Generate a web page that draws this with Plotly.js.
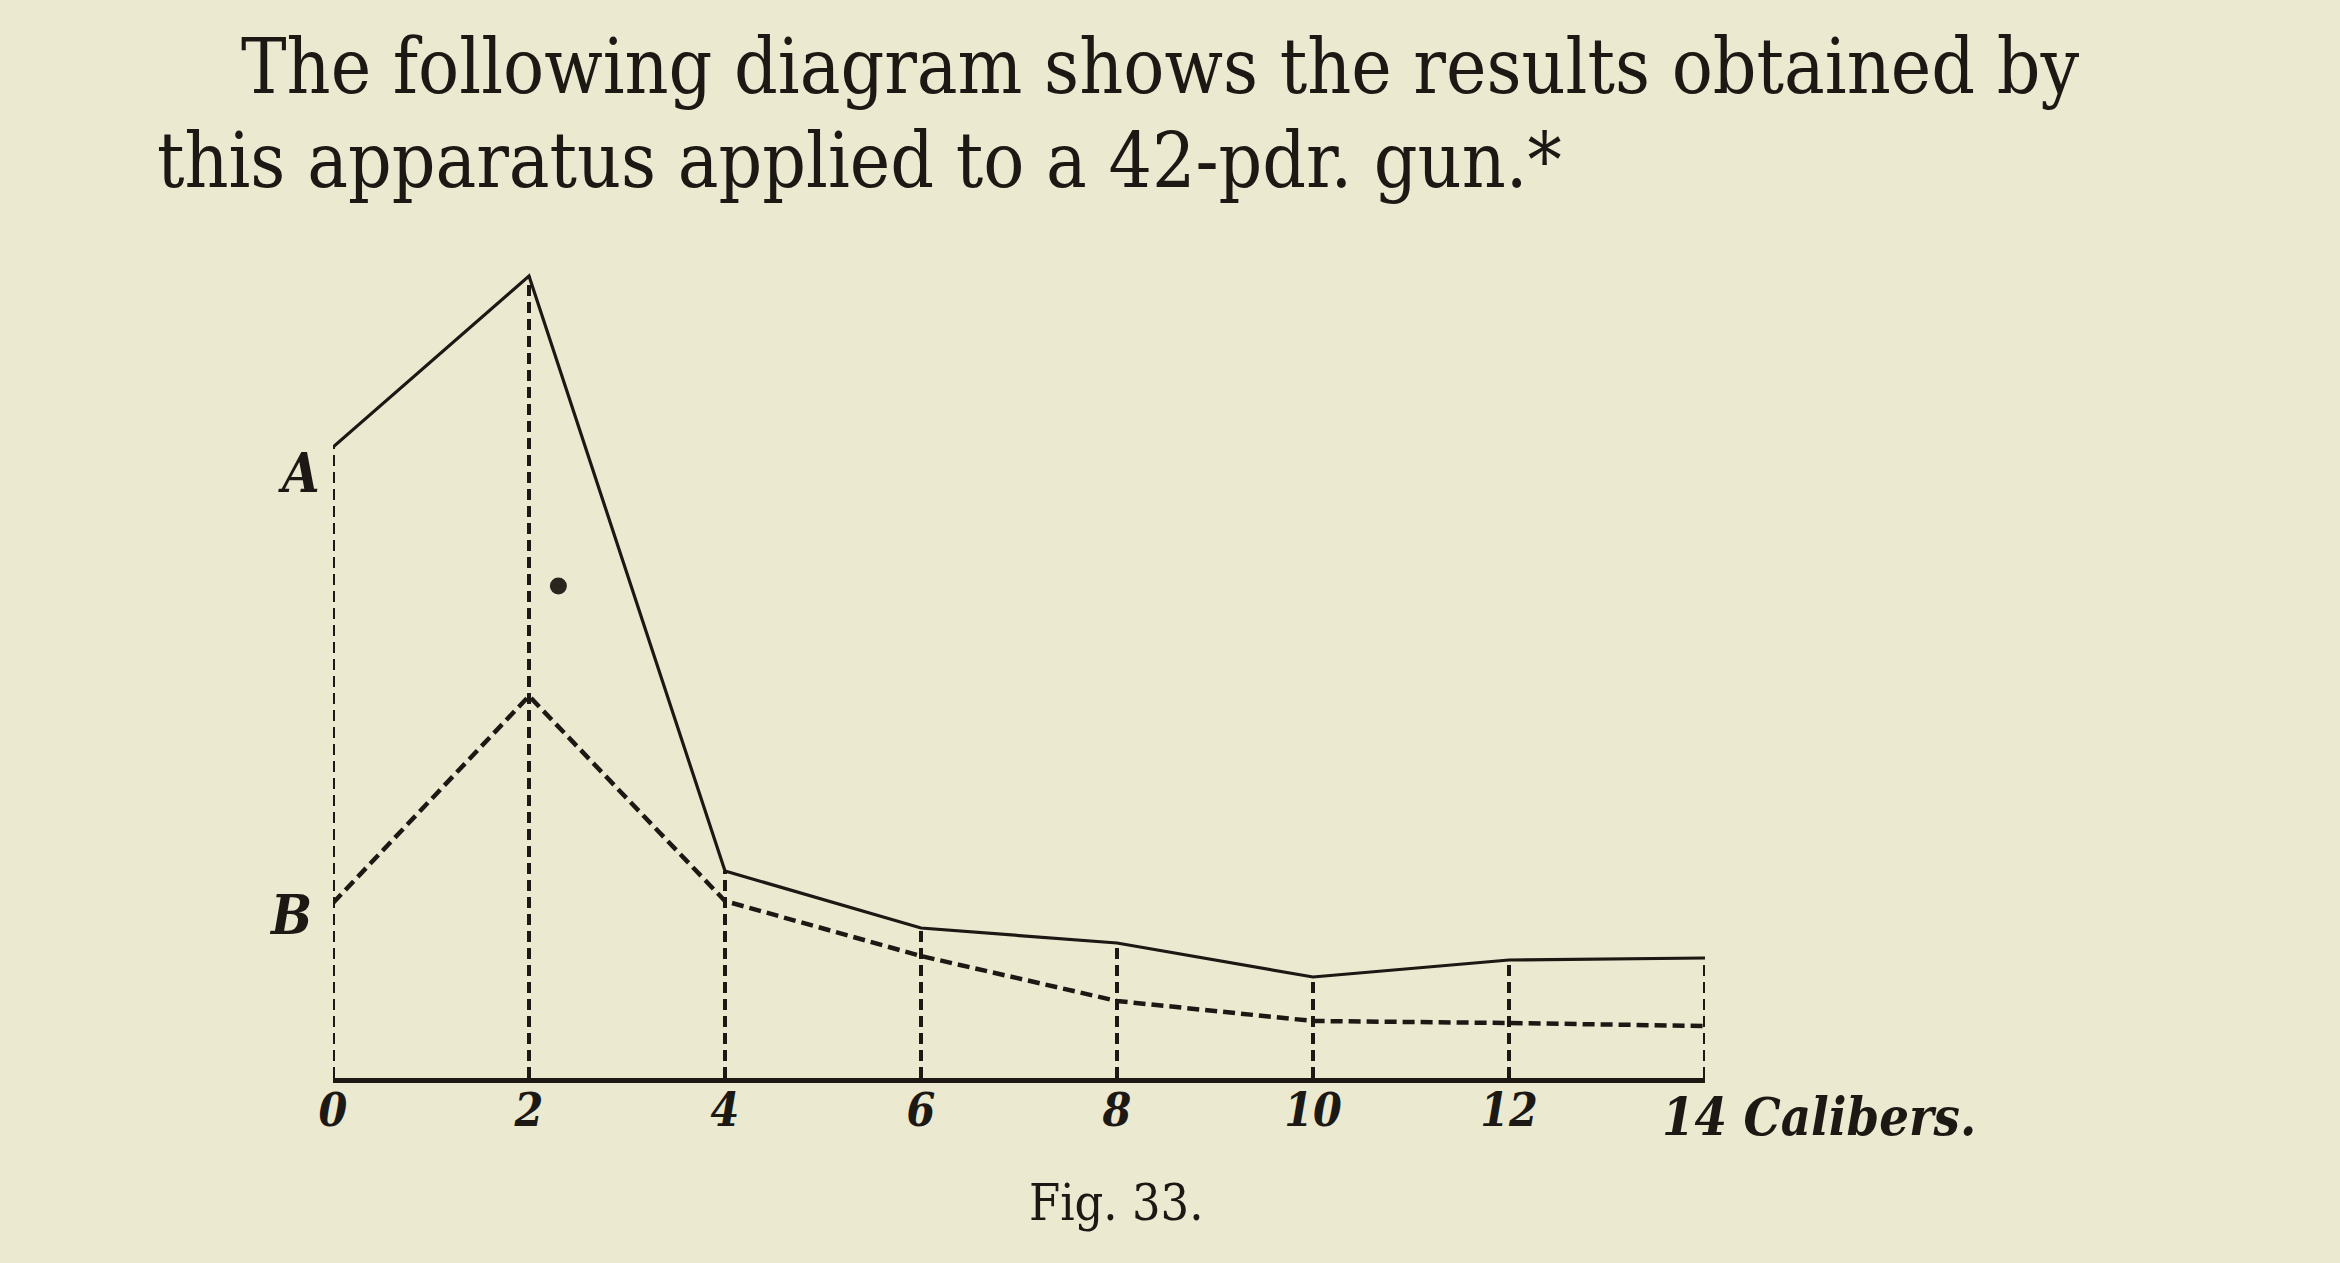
<!DOCTYPE html>
<html>
<head>
<meta charset="utf-8">
<script src="https://cdn.plot.ly/plotly-3.0.1.min.js"></script>
<style>
  html, body { margin: 0; padding: 0; background: #ECE9D1; }
  #chart { width: 2340px; height: 1263px; }
</style>
</head>
<body>
<div id="chart"></div>
<script>
// ---- data (arbitrary vertical units) ----
const calibers   = [0, 2, 4, 6, 8, 10, 12, 14];
const curveA     = [631, 802, 207, 150, 135, 101, 118, 120];
const curveB     = [175, 382, 177, 122, 77, 57, 55, 52];
const tickLabels = ['0', '2', '4', '6', '8', '10', '12', '14'];
const axisUnit   = 'Calibers.';
const strayDotX  = [2.3];
const strayDotY  = [492];
const textLine1  = 'The following diagram shows the results obtained by';
const textLine2  = 'this apparatus applied to a 42-pdr. gun.*';
const caption    = 'Fig. 33.';

const ink = '#1c1814';
const paper = '#ECE9D1';

// vertical ordinate lines (dashed) from baseline up to curve A
const ordX = [], ordY = [];
calibers.forEach((c, i) => { ordX.push(c, c, null); ordY.push(0, curveA[i], null); });

const traces = [
  { x: ordX, y: ordY, mode: 'lines', line: { color: ink, width: 4, dash: '11px,6px' },
    hoverinfo: 'skip', showlegend: false, cliponaxis: false },
  { x: calibers, y: curveB, mode: 'lines', line: { color: ink, width: 4.5, dash: '12px,6px' },
    showlegend: false, cliponaxis: false },
  { x: calibers, y: curveA, mode: 'lines', line: { color: ink, width: 3.2 },
    showlegend: false, cliponaxis: false },
  { x: strayDotX, y: strayDotY, mode: 'markers', marker: { color: '#2a251e', size: 17 },
    showlegend: false, cliponaxis: false }
];

const tickText = tickLabels.slice(0, -1).concat(['']);

const bodyFont = 'DejaVu Serif Condensed, DejaVu Serif, Liberation Serif, serif';
const labelFont = 'DejaVu Serif Condensed, DejaVu Serif, Liberation Serif, serif';

// pixel -> paper helpers for text placement (plot area: x 333..1705, y 178..1078)
const L = 333, W = 1372, B0 = 1078, H = 900;
const px = v => (v - L) / W;
const py = v => (B0 - v) / H;

const layout = {
  width: 2340, height: 1263,
  paper_bgcolor: paper, plot_bgcolor: paper,
  margin: { l: L, r: 2340 - L - W, t: B0 - H, b: 1263 - B0 },
  showlegend: false,
  xaxis: {
    range: [0, 14], showgrid: false, zeroline: false,
    showline: true, linecolor: ink, linewidth: 4.5,
    tickmode: 'array', tickvals: calibers, ticktext: tickText,
    ticks: '', ticklabelstandoff: -12,
    tickfont: { family: labelFont, size: 46, color: ink, style: 'italic', weight: 'bold' }
  },
  yaxis: {
    range: [0, H], visible: false, showgrid: false, zeroline: false
  },
  annotations: [
    { text: textLine1, xref: 'paper', yref: 'paper', x: px(239), y: py(66),
      xanchor: 'left', yanchor: 'middle', showarrow: false,
      font: { family: bodyFont, size: 76, color: ink } },
    { text: textLine2, xref: 'paper', yref: 'paper', x: px(155), y: py(161),
      xanchor: 'left', yanchor: 'middle', showarrow: false,
      font: { family: bodyFont, size: 76, color: ink } },
    { text: 'A', xref: 'paper', yref: 'paper', x: px(299), y: py(473),
      xanchor: 'center', yanchor: 'middle', showarrow: false,
      font: { family: labelFont, size: 54, color: ink, style: 'italic', weight: 'bold' } },
    { text: 'B', xref: 'paper', yref: 'paper', x: px(290), y: py(915),
      xanchor: 'center', yanchor: 'middle', showarrow: false,
      font: { family: labelFont, size: 54, color: ink, style: 'italic', weight: 'bold' } },
    { text: tickLabels[tickLabels.length - 1] + ' ' + axisUnit, xref: 'paper', yref: 'paper',
      x: px(1660), y: py(1116),
      xanchor: 'left', yanchor: 'middle', showarrow: false,
      font: { family: labelFont, size: 52, color: ink, style: 'italic', weight: 'bold' } },
    { text: caption, xref: 'paper', yref: 'paper', x: px(1116), y: py(1203),
      xanchor: 'center', yanchor: 'middle', showarrow: false,
      font: { family: bodyFont, size: 50, color: ink } }
  ]
};

Plotly.newPlot('chart', traces, layout, { displayModeBar: false, staticPlot: true });
</script>
</body>
</html>
